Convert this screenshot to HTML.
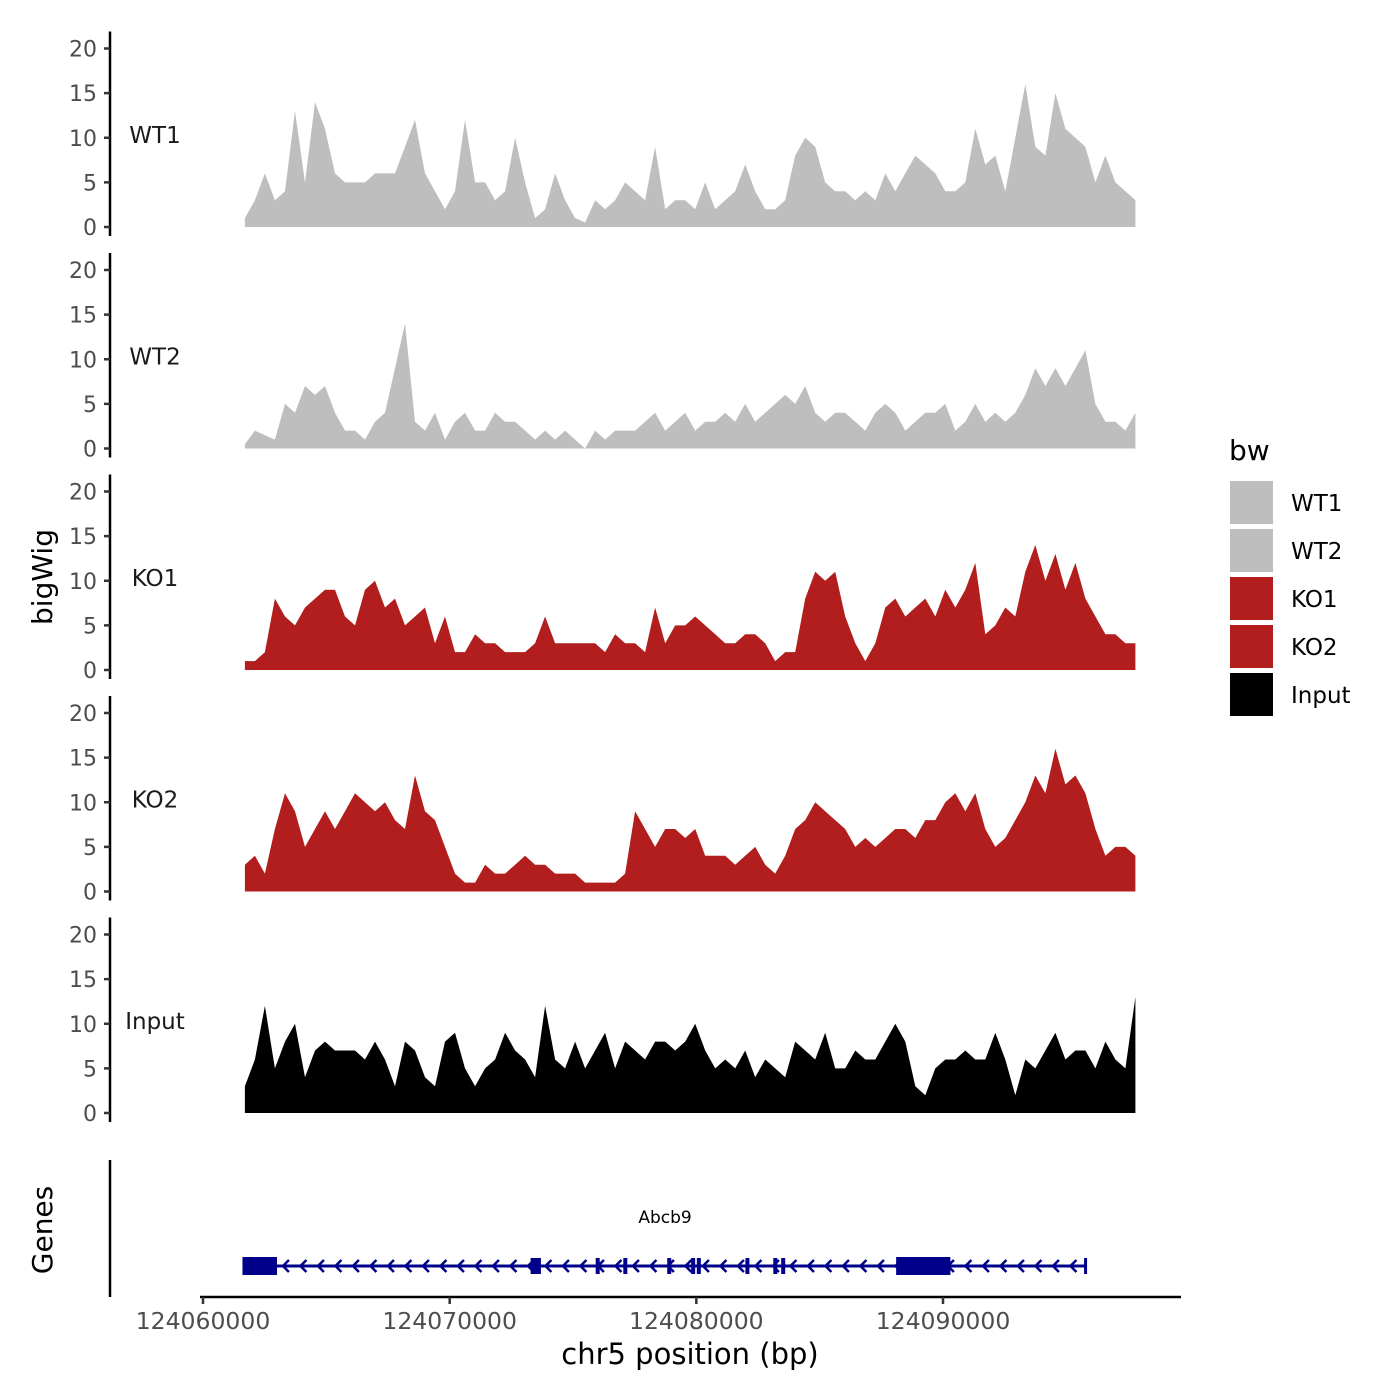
<!DOCTYPE html>
<html><head><meta charset="utf-8">
<style>
html,body{margin:0;padding:0;background:#fff;}
svg{display:block;font-family:"DejaVu Sans","Liberation Sans",sans-serif;}
</style></head>
<body>
<svg id="chart" width="1400" height="1400" viewBox="0 0 1400 1400">
<text x="0" y="0" transform="translate(52,577) rotate(-90)" text-anchor="middle" font-size="28" fill="#000">bigWig</text>
<text x="0" y="0" transform="translate(52,1230) rotate(-90)" text-anchor="middle" font-size="28" fill="#000">Genes</text>
<g id="panels"></g>
<g id="genes"></g>
<line x1="110" y1="1160" x2="110" y2="1297" stroke="#000" stroke-width="2.5"/>
<line x1="200" y1="1297" x2="1181" y2="1297" stroke="#000" stroke-width="2.5"/>
<g id="xticks"></g>
<text x="690" y="1364" text-anchor="middle" font-size="29" fill="#000">chr5 position (bp)</text>
<g id="legend">
<text x="1229" y="460" font-size="28" fill="#000">bw</text>
</g>
</svg>
<script>
const NS="http://www.w3.org/2000/svg";
const samples=["WT1","WT2","KO1","KO2","Input"];
const colors=["#bebebe","#bebebe","#b21d1d","#b21d1d","#000000"];
const yTicks=[0,5,10,15,20];
const xTickValues=[124060000,124070000,124080000,124090000];
const startBp=124061700, endBp=124097800;
const wt1=[1,3,6,3,4,13,5,14,11,6,5,5,5,6,6,6,9,12,6,4,2,4,12,5,5,3,4,10,5,1,2,6,3,1,0.5,3,2,3,5,4,3,9,2,3,3,2,5,2,3,4,7,4,2,2,3,8,10,9,5,4,4,3,4,3,6,4,6,8,7,6,4,4,5,11,7,8,4,10,16,9,8,15,11,10,9,5,8,5,4,3];
const wt2=[0.5,2,1.5,1,5,4,7,6,7,4,2,2,1,3,4,9,14,3,2,4,1,3,4,2,2,4,3,3,2,1,2,1,2,1,0,2,1,2,2,2,3,4,2,3,4,2,3,3,4,3,5,3,4,5,6,5,7,4,3,4,4,3,2,4,5,4,2,3,4,4,5,2,3,5,3,4,3,4,6,9,7,9,7,9,11,5,3,3,2,4];
const ko1=[1,1,2,8,6,5,7,8,9,9,6,5,9,10,7,8,5,6,7,3,6,2,2,4,3,3,2,2,2,3,6,3,3,3,3,3,2,4,3,3,2,7,3,5,5,6,5,4,3,3,4,4,3,1,2,2,8,11,10,11,6,3,1,3,7,8,6,7,8,6,9,7,9,12,4,5,7,6,11,14,10,13,9,12,8,6,4,4,3,3];
const ko2=[3,4,2,7,11,9,5,7,9,7,9,11,10,9,10,8,7,13,9,8,5,2,1,1,3,2,2,3,4,3,3,2,2,2,1,1,1,1,2,9,7,5,7,7,6,7,4,4,4,3,4,5,3,2,4,7,8,10,9,8,7,5,6,5,6,7,7,6,8,8,10,11,9,11,7,5,6,8,10,13,11,16,12,13,11,7,4,5,5,4];
const input=[3,6,12,5,8,10,4,7,8,7,7,7,6,8,6,3,8,7,4,3,8,9,5,3,5,6,9,7,6,4,12,6,5,8,5,7,9,5,8,7,6,8,8,7,8,10,7,5,6,5,7,4,6,5,4,8,7,6,9,5,5,7,6,6,8,10,8,3,2,5,6,6,7,6,6,9,6,2,6,5,7,9,6,7,7,5,8,6,5,13];
const series=[wt1,wt2,ko1,ko2,input];
const exonStarts=[124061600,124073280,124075920,124077040,124078820,124079790,124080020,124081990,124083120,124083440,124088100];
const exonEnds=[124063000,124073700,124076080,124077200,124078980,124079950,124080180,124082150,124083280,124083600,124090300];

const x0=203, xPerBp=(943-203)/30000;
function xs(bp){return x0+(bp-124060000)*xPerBp;}
const pTop0=227, pSpacing=221.5, yPerUnit=178.5/20;
function ys(p,v){return pTop0+p*pSpacing - v*yPerUnit;}
function mk(tag,attrs,parent){const e=document.createElementNS(NS,tag);for(const k in attrs)e.setAttribute(k,attrs[k]);parent.appendChild(e);return e;}

const panels=document.getElementById('panels');
samples.forEach((s,p)=>{
  const g=mk('g',{},panels);
  
  
  const vals=series[p];
  const step=(endBp-startBp)/(vals.length-1);
  let d='M'+xs(startBp).toFixed(1)+','+ys(p,0).toFixed(1);
  vals.forEach((v,i)=>{d+=' L'+xs(startBp+i*step).toFixed(1)+','+ys(p,v).toFixed(1);});
  d+=' L'+xs(endBp).toFixed(1)+','+ys(p,0).toFixed(1)+' Z';
  const a=mk('path',{d:d,fill:colors[p]},g);
  
  
  const ax=mk('line',{x1:110,x2:110,y1:ys(p,20)-17,y2:ys(p,0)+9,stroke:'#000','stroke-width':2.5},g);
  
  
  yTicks.forEach(t=>{
    const tl=mk('line',{x1:104,x2:110,y1:ys(p,t),y2:ys(p,t),stroke:'#333','stroke-width':2.5},g);
    
    
    const tx=mk('text',{x:97,y:ys(p,t)+8,'text-anchor':'end','font-size':22,fill:'#4d4d4d'},g);
    tx.textContent=t;
    
    
  });
  const lb=mk('text',{x:155,y:ys(p,10)+5,'text-anchor':'middle','font-size':23,fill:'#1a1a1a'},g);
  lb.textContent=s;
  
  
});

const gg=document.getElementById('genes');
const gy=1266, gStart=124061700, gEnd=124095800;
const gl=mk('line',{x1:xs(gStart),x2:xs(gEnd),y1:gy,y2:gy,stroke:'#00008b','stroke-width':3},gg);


for(let x=xs(gStart)+40;x<xs(gEnd)-5;x+=17.5){
  const c=mk('path',{d:`M${x+4},${gy-6} L${x-2},${gy} L${x+4},${gy+6}`,stroke:'#00008b','stroke-width':2.5,fill:'none'},gg);
  
  
}
exonStarts.forEach((s,i)=>{
  const w=Math.max(4,xs(exonEnds[i])-xs(s));
  const h=w>20?18:16;
  const r=mk('rect',{x:xs(s),y:gy-h/2,width:w,height:h,fill:'#00008b'},gg);
  
  
});
const endTick=mk('rect',{x:xs(gEnd)-2,y:gy-8,width:3,height:16,fill:'#00008b'},gg);


const gn=mk('text',{x:665,y:1223,'text-anchor':'middle','font-size':17,fill:'#000'},gg);
gn.textContent='Abcb9';



const xt=document.getElementById('xticks');
xTickValues.forEach(v=>{
  const l=mk('line',{x1:xs(v),x2:xs(v),y1:1297,y2:1304,stroke:'#333','stroke-width':2.5},xt);
  
  
  const t=mk('text',{x:xs(v),y:1329,'text-anchor':'middle','font-size':23.5,fill:'#4d4d4d'},xt);
  t.textContent=v;
  
  
});

const lg=document.getElementById('legend');
samples.forEach((s,i)=>{
  const y=481+i*48;
  const r=mk('rect',{x:1230,y:y,width:43,height:43,fill:colors[i]},lg);
  
  
  const t=mk('text',{x:1291,y:y+30,'font-size':23,fill:'#000'},lg);
  t.textContent=s;
  
  
});
</script>
</body></html>
